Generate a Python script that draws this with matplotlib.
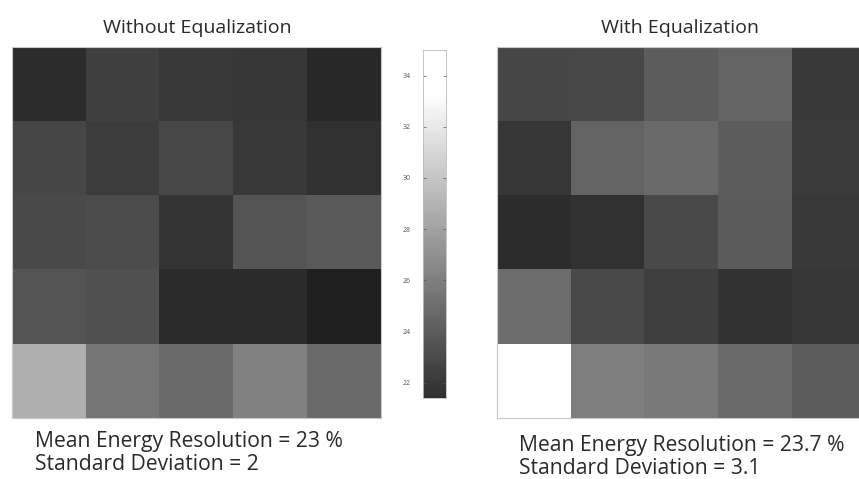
import numpy as np
import matplotlib
matplotlib.use("Agg")
import matplotlib.pyplot as plt
from matplotlib.colors import Normalize

# energy resolution (%) per crystal, 5x5 grid, top row first
without_eq = np.array([
    [21.3, 22.4, 22.0, 21.8, 21.0],
    [22.7, 22.2, 22.8, 22.0, 21.5],
    [22.9, 23.0, 21.7, 23.5, 23.8],
    [23.5, 23.3, 21.2, 21.2, 20.5],
    [28.7, 25.4, 24.8, 26.1, 24.8],
])
with_eq = np.array([
    [22.7, 22.8, 24.0, 24.4, 21.9],
    [21.8, 24.4, 24.7, 24.0, 22.1],
    [21.3, 21.5, 22.9, 23.9, 21.9],
    [24.9, 22.9, 22.3, 21.6, 21.8],
    [33.3, 25.9, 25.7, 24.7, 24.0],
])
titles = ["Without Equalization", "With Equalization"]
mean_lines = ["Mean Energy Resolution = 23 %", "Mean Energy Resolution = 23.7 %"]
std_lines = ["Standard Deviation = 2", "Standard Deviation = 3.1"]
cbar_ticks = [22, 24, 26, 28, 30, 32, 34]
cbar_range = (21.4, 35.0)

plt.rcParams["font.family"] = ["Open Sans", "DejaVu Sans"]

W, H = 859, 479
fig = plt.figure(figsize=(W / 100, H / 100), dpi=100)
norm = Normalize(vmin=18.7, vmax=33.3)
cmap = plt.get_cmap("gray")


def px_axes(x0, y0, x1, y1):
    return fig.add_axes([x0 / W, 1 - y1 / H, (x1 - x0) / W, (y1 - y0) / H])


panels = [(12, 47, 381, 418), (497, 47, 866, 418)]
title_x = [197, 680]
caption_x = [35, 519]
caption_y = [441, 445]
for i, ((x0, y0, x1, y1), grid) in enumerate(zip(panels, [without_eq, with_eq])):
    ax = px_axes(x0, y0, x1, y1)
    ax.imshow(grid, cmap=cmap, norm=norm, aspect="auto", interpolation="nearest")
    ax.set_xticks([])
    ax.set_yticks([])
    for s in ax.spines.values():
        s.set_color("#c8c8c8")
        s.set_linewidth(0.8)
    fig.text(title_x[i] / W, 1 - 28 / H, titles[i],
             ha="center", va="center", fontsize=14, color="#2a2a2a")
    fig.text(caption_x[i] / W, 1 - caption_y[i] / H, mean_lines[i], ha="left",
             va="center", fontsize=15.2, color="#2a2a2a")
    fig.text(caption_x[i] / W, 1 - (caption_y[i] + 24) / H, std_lines[i], ha="left",
             va="center", fontsize=15.2, color="#2a2a2a")

# colour scale bar
cax = px_axes(423, 50, 446, 398)
grad = np.linspace(cbar_range[0], cbar_range[1], 256).reshape(-1, 1)
cax.imshow(grad, cmap=cmap, norm=norm, aspect="auto", origin="lower",
           extent=[0, 1, cbar_range[0], cbar_range[1]])
cax.set_xticks([])
cax.set_yticks(cbar_ticks)
cax.set_ylim(*cbar_range)
cax.tick_params(axis="y", labelsize=5, length=2, width=0.5, colors="#555555",
                left=True, right=True, direction="in", pad=9)
for s in cax.spines.values():
    s.set_color("#bbbbbb")
    s.set_linewidth(0.6)

fig.savefig("out.png", dpi=100, facecolor="white")
